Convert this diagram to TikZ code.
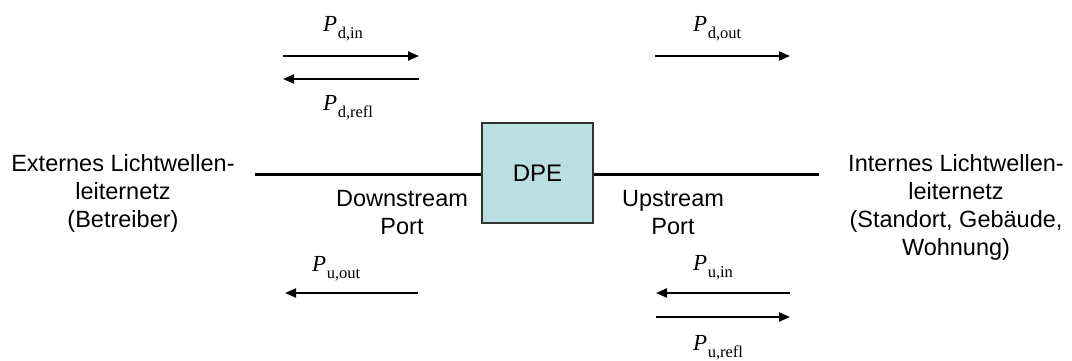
\documentclass[tikz,border=0pt]{standalone}
\usepackage{fontspec}
\setmainfont{Liberation Sans}
\newfontfamily\tms{Liberation Serif}
\usetikzlibrary{arrows.meta}
\definecolor{dpeblue}{HTML}{BADFE2}
\definecolor{dpeborder}{HTML}{333333}
\tikzset{
  txt/.style={font=\fontsize{23.5}{28}\selectfont, align=center, inner sep=0pt},
  plabel/.style={anchor=base west, inner sep=0pt},
  flow/.style={line width=2pt, -{Triangle[length=11pt,width=9pt]}},
  fiber/.style={line width=3pt},
  dpebox/.style={draw=dpeborder, line width=1.6pt, fill=dpeblue, minimum width=111pt, minimum height=100pt, inner sep=0pt, font=\fontsize{24}{28}\selectfont}
}
\newcommand{\plab}[2]{{\tms\fontsize{23}{26}\selectfont\textit{P}\kern0.5pt\raisebox{-7pt}{\fontsize{16.5}{18}\selectfont #1,#2}}}
\begin{document}
\begin{tikzpicture}[x=1pt,y=-1pt]
\useasboundingbox (0,0) rectangle (1072,360);
% DPE box
\node[dpebox] (dpe) at (537.5,173) {DPE};
% fiber lines
\coordinate (lstart) at (255,174);
\coordinate (rend) at (819,174);
\draw[fiber] (lstart) -- (dpe.west |- lstart);
\draw[fiber] (dpe.east |- rend) -- (rend);
% side texts (anchor base = baseline of last line)
\node[txt, anchor=base] (ext) at (123,227) {Externes Lichtwellen-\\leiternetz\\(Betreiber)};
\node[txt, anchor=base] (int) at (956,255) {Internes Lichtwellen-\\leiternetz\\(Standort, Geb\"aude,\\Wohnung)};
\node[txt, anchor=base] (dport) at (402,234) {Downstream\\Port};
\node[txt, anchor=base] (uport) at (673,234) {Upstream\\Port};
% downstream arrows (top)
\coordinate (dinA) at (283,56); \coordinate (dinB) at (419,56);
\coordinate (drA) at (419,79); \coordinate (drB) at (283,79);
\coordinate (doA) at (655,56); \coordinate (doB) at (790,56);
\draw[flow] (dinA) -- (dinB);
\draw[flow] (drA) -- (drB);
\draw[flow] (doA) -- (doB);
\node[plabel] (pdin) at (323,31) {\plab{d}{in}};
\node[plabel] (pdrefl) at (323,110) {\plab{d}{refl}};
\node[plabel] (pdout) at (693,31) {\plab{d}{out}};
% upstream arrows (bottom)
\coordinate (uoA) at (418,293); \coordinate (uoB) at (285,293);
\coordinate (uiA) at (790,293); \coordinate (uiB) at (656,293);
\coordinate (urA) at (656,317); \coordinate (urB) at (790,317);
\draw[flow] (uoA) -- (uoB);
\draw[flow] (uiA) -- (uiB);
\draw[flow] (urA) -- (urB);
\node[plabel] (puout) at (312,271) {\plab{u}{out}};
\node[plabel] (puin) at (693,270) {\plab{u}{in}};
\node[plabel] (purefl) at (693,350) {\plab{u}{refl}};
\end{tikzpicture}
\end{document}
